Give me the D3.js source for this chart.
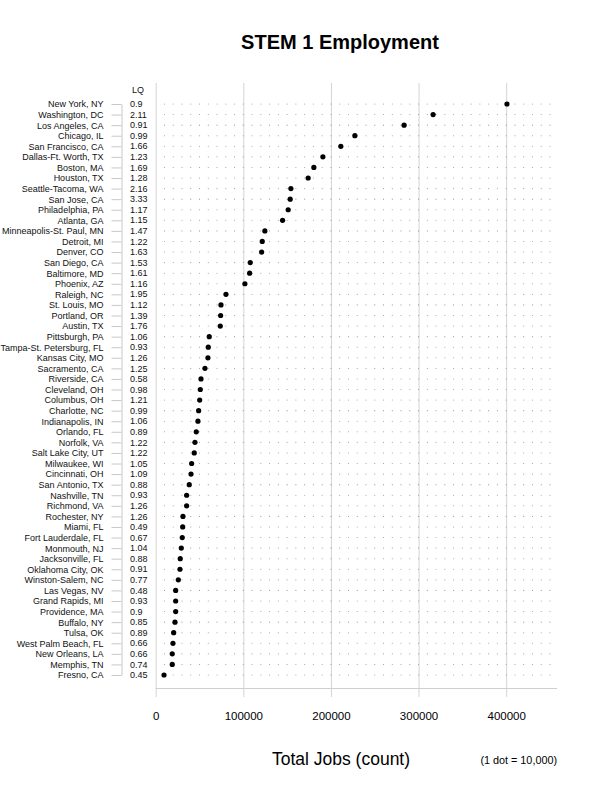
<!DOCTYPE html>
<html>
<head>
<meta charset="utf-8">
<script src="https://cdn.jsdelivr.net/npm/d3@7"></script>
<style>
  body { margin: 0; background: #fff; }
  svg { font-family: "Liberation Sans", Arial, Helvetica, sans-serif; }
</style>
</head>
<body>
<svg id="chart" width="600" height="800"></svg>
<script>
const cities = ["New York, NY","Washington, DC","Los Angeles, CA","Chicago, IL","San Francisco, CA","Dallas-Ft. Worth, TX","Boston, MA","Houston, TX","Seattle-Tacoma, WA","San Jose, CA","Philadelphia, PA","Atlanta, GA","Minneapolis-St. Paul, MN","Detroit, MI","Denver, CO","San Diego, CA","Baltimore, MD","Phoenix, AZ","Raleigh, NC","St. Louis, MO","Portland, OR","Austin, TX","Pittsburgh, PA","Tampa-St. Petersburg, FL","Kansas City, MO","Sacramento, CA","Riverside, CA","Cleveland, OH","Columbus, OH","Charlotte, NC","Indianapolis, IN","Orlando, FL","Norfolk, VA","Salt Lake City, UT","Milwaukee, WI","Cincinnati, OH","San Antonio, TX","Nashville, TN","Richmond, VA","Rochester, NY","Miami, FL","Fort Lauderdale, FL","Monmouth, NJ","Jacksonville, FL","Oklahoma City, OK","Winston-Salem, NC","Las Vegas, NV","Grand Rapids, MI","Providence, MA","Buffalo, NY","Tulsa, OK","West Palm Beach, FL","New Orleans, LA","Memphis, TN","Fresno, CA"];
const lq = ["0.9","2.11","0.91","0.99","1.66","1.23","1.69","1.28","2.16","3.33","1.17","1.15","1.47","1.22","1.63","1.53","1.61","1.16","1.95","1.12","1.39","1.76","1.06","0.93","1.26","1.25","0.58","0.98","1.21","0.99","1.06","0.89","1.22","1.22","1.05","1.09","0.88","0.93","1.26","1.26","0.49","0.67","1.04","0.88","0.91","0.77","0.48","0.93","0.9","0.85","0.89","0.66","0.66","0.74","0.45"];
const jobs = [400900,316600,283500,227300,211300,190800,180500,174000,154300,153500,151200,144800,124600,121600,120900,107900,107200,101800,80200,74500,74100,73700,61100,60000,59600,56200,51700,50900,50200,49000,48200,46300,44800,44000,41000,40300,38300,35300,35300,31100,30800,30300,29200,28000,27700,25800,22800,22800,22800,22000,20500,19700,18900,18900,9500];
const xTicks = [0,100000,200000,300000,400000];
const dotUnit = 10000;
const dotMax = 450000;

const svg = d3.select("#chart");
const plotTop = 83, plotBottom = 688;
const x = d3.scaleLinear().domain([0, 458000]).range([155.7, 557]);
const y = d3.scalePoint().domain(cities).range([104, 675]);

// Title
svg.append("text").attr("x", 340).attr("y", 49).attr("text-anchor", "middle")
  .attr("font-size", 20).attr("font-weight", "bold").attr("fill", "#000")
  .text("STEM 1 Employment");

// Vertical gridlines (including left border) + ticks
const gridAxis = d3.axisBottom(x).tickValues(xTicks).tickSize(plotBottom - plotTop + 9).tickFormat("");
const g = svg.append("g").attr("transform", `translate(0,${plotTop})`).call(gridAxis);
g.select(".domain").remove();
g.selectAll(".tick line").attr("stroke", "#d4d4d4").attr("stroke-width", 1);

// X axis baseline and labels
const xAxis = d3.axisBottom(x).tickValues(xTicks).tickSize(0).tickPadding(24)
  .tickFormat(d3.format("d"));
const xg = svg.append("g").attr("transform", `translate(0,${plotBottom})`).call(xAxis);
xg.select(".domain").attr("stroke", "#cfcfcf").attr("d", `M${x(0)},0.5H557`);
xg.selectAll(".tick text").attr("font-size", 11.5).attr("fill", "#000")
  .attr("font-family", "'Liberation Sans', Arial, sans-serif");

// Left bracket axis with city labels
const yAxis = d3.axisLeft(y).tickSize(10).tickSizeOuter(0).tickPadding(8);
const yg = svg.append("g").attr("transform", "translate(121.5,0)").call(yAxis);
yg.select(".domain").attr("stroke", "#c8c8c8");
yg.selectAll(".tick line").attr("stroke", "#c8c8c8");
yg.selectAll(".tick text").attr("font-size", 9).attr("fill", "#111")
  .attr("font-family", "'Liberation Sans', Arial, sans-serif");

// LQ header and values
svg.append("text").attr("x", 132).attr("y", 93).attr("font-size", 9).attr("fill", "#111").text("LQ");
svg.append("g").selectAll("text").data(cities).join("text")
  .attr("x", 130).attr("y", d => y(d)).attr("dy", "0.35em")
  .attr("font-size", 9).attr("fill", "#111")
  .text((d, i) => lq[i]);

// Dotted rows (1 dot = 10,000)
const dotVals = d3.range(dotUnit, dotMax + 1, dotUnit);
const rows = svg.append("g").selectAll("g").data(cities).join("g")
  .attr("transform", d => `translate(0,${y(d)})`);
rows.selectAll("circle").data(dotVals).join("circle")
  .attr("cx", v => x(v)).attr("cy", 0).attr("r", 0.55).attr("fill", "#9a9a9a");

// Data points
svg.append("g").selectAll("circle").data(cities).join("circle")
  .attr("cx", (d, i) => x(jobs[i])).attr("cy", d => y(d)).attr("r", 2.6).attr("fill", "#000");

// Axis title and note
svg.append("text").attr("x", 341).attr("y", 765).attr("text-anchor", "middle")
  .attr("font-size", 17.5).attr("fill", "#000").text("Total Jobs (count)");
svg.append("text").attr("x", 557).attr("y", 764).attr("text-anchor", "end")
  .attr("font-size", 10.8).attr("fill", "#000").text("(1 dot = 10,000)");
</script>
</body>
</html>
